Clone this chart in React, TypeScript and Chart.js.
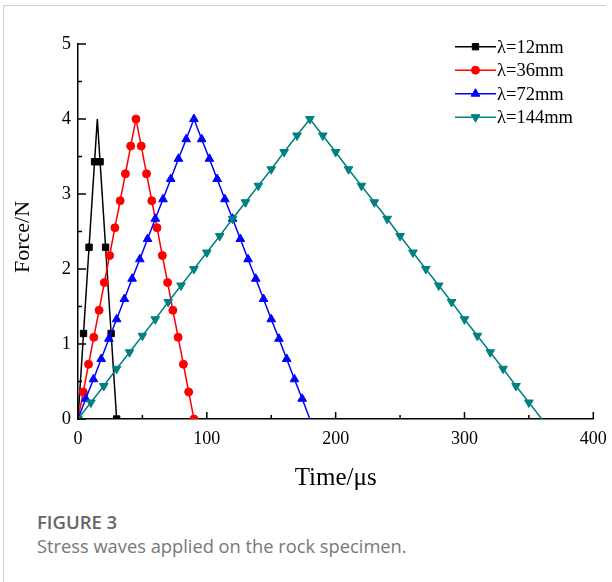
import React, { useEffect, useRef } from "react";
import { Chart, registerables } from "chart.js";
Chart.register(...registerables);

const SERIF = "'Liberation Serif', 'Times New Roman', serif";

// ---- data ----
const blackTime = [0, 4.29, 8.57, 12.86, 15, 17.14, 21.43, 25.71, 30];
const blackForce = [0, 1.14, 2.29, 3.43, 4, 3.43, 2.29, 1.14, 0];
const blackNoMarker = [4];

const redTime = [0, 4.09, 8.18, 12.27, 16.36, 20.45, 24.55, 28.64, 32.73, 36.82, 40.91, 45, 49.09, 53.18, 57.27, 61.36, 65.45, 69.55, 73.64, 77.73, 81.82, 85.91, 90];
const redForce = [0, 0.36, 0.73, 1.09, 1.45, 1.82, 2.18, 2.55, 2.91, 3.27, 3.64, 4, 3.64, 3.27, 2.91, 2.55, 2.18, 1.82, 1.45, 1.09, 0.73, 0.36, 0];
const redNoMarker: number[] = [];

const blueTime = [0, 6, 12, 18, 24, 30, 36, 42, 48, 54, 60, 66, 72, 78, 84, 90, 96, 102, 108, 114, 120, 126, 132, 138, 144, 150, 156, 162, 168, 174, 180];
const blueForce = [0, 0.27, 0.53, 0.8, 1.07, 1.33, 1.6, 1.87, 2.13, 2.4, 2.67, 2.93, 3.2, 3.47, 3.73, 4, 3.73, 3.47, 3.2, 2.93, 2.67, 2.4, 2.13, 1.87, 1.6, 1.33, 1.07, 0.8, 0.53, 0.27, 0];
const blueNoMarker = [30];

const tealTime = [0, 10, 20, 30, 40, 50, 60, 70, 80, 90, 100, 110, 120, 130, 140, 150, 160, 170, 180, 190, 200, 210, 220, 230, 240, 250, 260, 270, 280, 290, 300, 310, 320, 330, 340, 350, 360];
const tealForce = [0, 0.22, 0.44, 0.67, 0.89, 1.11, 1.33, 1.56, 1.78, 2, 2.22, 2.44, 2.67, 2.89, 3.11, 3.33, 3.56, 3.78, 4, 3.78, 3.56, 3.33, 3.11, 2.89, 2.67, 2.44, 2.22, 2, 1.78, 1.56, 1.33, 1.11, 0.89, 0.67, 0.44, 0.22, 0];
const tealNoMarker = [36];

const seriesLabels = ["λ=12mm", "λ=36mm", "λ=72mm", "λ=144mm"];
const seriesColors = ["#000000", "#ff0000", "#0000ff", "#008080"];
const seriesStyles = ["rect", "circle", "triangle", "triangle"];
const seriesRotation = [0, 0, 0, 180];
const seriesRadius = [4.5, 4, 5, 5];

const xTicks = [0, 100, 200, 300, 400];
const xMinorTicks = [50, 150, 250, 350];
const yTicks = [0, 1, 2, 3, 4, 5];
const yMinorTicks = [0.5, 1.5, 2.5, 3.5, 4.5];

function drawMarker(ctx: CanvasRenderingContext2D, style: string, r: number, rot: number, x: number, y: number) {
  ctx.beginPath();
  if (style === "rect") {
    const s = Math.SQRT1_2 * r;
    ctx.rect(x - s, y - s, 2 * s, 2 * s);
  } else if (style === "circle") {
    ctx.arc(x, y, r, 0, Math.PI * 2);
  } else {
    let a = (rot * Math.PI) / 180;
    ctx.moveTo(x + Math.sin(a) * r, y - Math.cos(a) * r);
    a += (2 * Math.PI) / 3;
    ctx.lineTo(x + Math.sin(a) * r, y - Math.cos(a) * r);
    a += (2 * Math.PI) / 3;
    ctx.lineTo(x + Math.sin(a) * r, y - Math.cos(a) * r);
    ctx.closePath();
  }
  ctx.fill();
  ctx.stroke();
}

const inwardTicks = {
  id: "inwardTicks",
  afterDraw(chart: any) {
    const { ctx, chartArea, scales } = chart;
    const x = scales.x;
    const y = scales.y;
    ctx.save();
    ctx.strokeStyle = "#000";
    ctx.lineWidth = 1.5;
    ctx.beginPath();
    xTicks.forEach((v) => {
      const p = x.getPixelForValue(v);
      ctx.moveTo(p, chartArea.bottom);
      ctx.lineTo(p, chartArea.bottom - 7);
    });
    xMinorTicks.forEach((v) => {
      const p = x.getPixelForValue(v);
      ctx.moveTo(p, chartArea.bottom);
      ctx.lineTo(p, chartArea.bottom - 4);
    });
    yTicks.forEach((v) => {
      const p = y.getPixelForValue(v);
      ctx.moveTo(chartArea.left, p);
      ctx.lineTo(chartArea.left + 8, p);
    });
    yMinorTicks.forEach((v) => {
      const p = y.getPixelForValue(v);
      ctx.moveTo(chartArea.left, p);
      ctx.lineTo(chartArea.left + 4, p);
    });
    ctx.stroke();
    ctx.restore();
  },
};

const customLegend = {
  id: "customLegend",
  afterDraw(chart: any) {
    const { ctx } = chart;
    const x0 = 455;
    const x1 = 496;
    const textX = 497;
    const y0 = 46.7;
    const dy = 23.5;
    ctx.save();
    seriesLabels.forEach((lab, i) => {
      const yy = y0 + i * dy;
      ctx.strokeStyle = seriesColors[i];
      ctx.fillStyle = seriesColors[i];
      ctx.lineWidth = 1.5;
      ctx.beginPath();
      ctx.moveTo(x0, yy);
      ctx.lineTo(x1, yy);
      ctx.stroke();
      ctx.lineWidth = 1;
      drawMarker(ctx, seriesStyles[i], seriesRadius[i], seriesRotation[i], (x0 + x1) / 2, yy);
      ctx.fillStyle = "#000";
      ctx.font = `18.5px ${SERIF}`;
      ctx.textAlign = "left";
      ctx.textBaseline = "middle";
      ctx.fillText(lab, textX, yy + 1);
    });
    ctx.restore();
  },
};

export default function App() {
  const ref = useRef<HTMLCanvasElement>(null);
  useEffect(() => {
    const canvas = ref.current!;
    const times = [blackTime, redTime, blueTime, tealTime];
    const forces = [blackForce, redForce, blueForce, tealForce];
    const hidden = [blackNoMarker, redNoMarker, blueNoMarker, tealNoMarker];
    const datasets = seriesLabels.map((label, i) => ({
      label,
      data: times[i].map((t, k) => ({ x: t, y: forces[i][k] })),
      borderColor: seriesColors[i],
      backgroundColor: seriesColors[i],
      pointBackgroundColor: seriesColors[i],
      pointBorderColor: seriesColors[i],
      borderWidth: 1.5,
      pointStyle: seriesStyles[i] as any,
      rotation: seriesRotation[i],
      pointRotation: seriesRotation[i],
      pointRadius: times[i].map((_, k) => (hidden[i].includes(k) ? 0 : seriesRadius[i])),
      pointBorderWidth: 1,
      tension: 0,
      fill: false,
      order: 4 - i,
    }));
    const chart = new Chart(canvas, {
      type: "line",
      data: { datasets },
      options: {
        animation: false,
        responsive: false,
        events: [],
        layout: { padding: { left: 0, right: 18.7, top: 44, bottom: 0 } },
        plugins: { legend: { display: false }, tooltip: { enabled: false }, title: { display: false } },
        scales: {
          x: {
            type: "linear",
            min: 0,
            max: 400,
            afterBuildTicks: (s: any) => {
              s.ticks = xTicks.map((v) => ({ value: v }));
            },
            ticks: { font: { family: SERIF, size: 18 }, color: "#000", padding: 9, maxRotation: 0, autoSkip: false },
            grid: { display: false, drawTicks: false },
            border: { display: true, color: "#000", width: 1.5 },
            title: {
              display: true,
              text: "Time/μs",
              font: { family: SERIF, size: 25 },
              color: "#000",
              padding: { top: 0, bottom: 7 },
            },
            afterFit: (s: any) => {
              s.height = 81;
              s.paddingLeft = 0;
              s.paddingRight = 0;
            },
          },
          y: {
            type: "linear",
            min: 0,
            max: 5,
            afterBuildTicks: (s: any) => {
              s.ticks = yTicks.map((v) => ({ value: v }));
            },
            ticks: { font: { family: SERIF, size: 18.5 }, color: "#000", padding: 7, autoSkip: false },
            grid: { display: false, drawTicks: false },
            border: { display: true, color: "#000", width: 1.5 },
            title: {
              display: true,
              text: "Force/N  ",
              font: { family: SERIF, size: 22 },
              color: "#000",
              padding: { top: 10, bottom: 0 },
            },
            afterFit: (s: any) => {
              s.width = 78;
              s.paddingTop = 0;
              s.paddingBottom = 0;
            },
          },
        },
      },
      plugins: [inwardTicks, customLegend],
    } as any);
    return () => chart.destroy();
  }, []);

  return (
    <div style={{ position: "absolute", left: 0, top: 0, width: 612, height: 582, background: "#fff", overflow: "hidden" }}>
      <div style={{ position: "absolute", left: 3, top: 5, width: 1, height: 577, background: "#cfcfcf" }} />
      <div style={{ position: "absolute", left: 3, top: 5, width: 603, height: 1, background: "#cfcfcf" }} />
      <canvas ref={ref} width={612} height={500} style={{ position: "absolute", left: 0, top: 0, width: 612, height: 500 }} />
      <div
        style={{
          position: "absolute",
          left: 37,
          top: 512,
          fontFamily: "'Open Sans', sans-serif",
          fontSize: 18.5,
          lineHeight: "20px",
          fontWeight: 600,
          color: "#666",
          whiteSpace: "nowrap",
        }}
      >
        FIGURE 3
      </div>
      <div
        style={{
          position: "absolute",
          left: 37,
          top: 536,
          fontFamily: "'Open Sans', sans-serif",
          fontSize: 18.3,
          lineHeight: "20px",
          color: "#777",
          whiteSpace: "nowrap",
        }}
      >
        Stress waves applied on the rock specimen.
      </div>
    </div>
  );
}
